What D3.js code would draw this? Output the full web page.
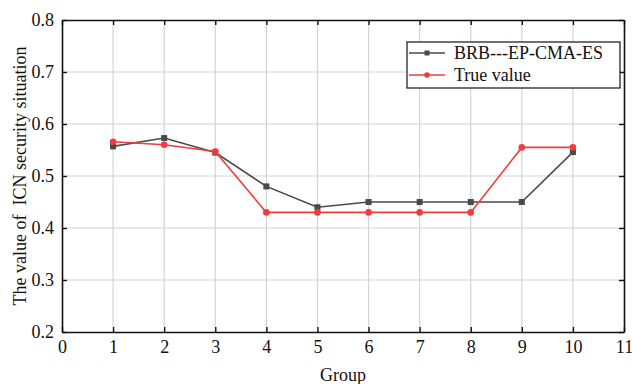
<!DOCTYPE html>
<html>
<head>
<meta charset="utf-8">
<script src="https://cdn.jsdelivr.net/npm/d3@7.9.0/dist/d3.min.js"></script>
<style>
  body { margin: 0; background: #fff; }
</style>
</head>
<body>
<svg width="632" height="384" font-family="'Liberation Serif', 'Times New Roman', serif"></svg>
<script>
const groups = [1, 2, 3, 4, 5, 6, 7, 8, 9, 10];
const brbValues = [0.557, 0.573, 0.545, 0.480, 0.440, 0.450, 0.450, 0.450, 0.450, 0.546];
const trueValues = [0.566, 0.560, 0.547, 0.430, 0.430, 0.430, 0.430, 0.430, 0.555, 0.555];
const xTicks = [0, 1, 2, 3, 4, 5, 6, 7, 8, 9, 10, 11];
const yTicks = [0.2, 0.3, 0.4, 0.5, 0.6, 0.7, 0.8];

const serif = "'Liberation Serif', 'Times New Roman', serif";
const svg = d3.select('svg');
const plotLeft = 62, plotRight = 624, plotTop = 20, plotBottom = 332;

const x = d3.scaleLinear().domain([0, 11]).range([plotLeft, plotRight]);
const y = d3.scaleLinear().domain([0.2, 0.8]).range([plotBottom, plotTop]);

// grid
svg.append('g').selectAll('line').data(groups).join('line')
  .attr('x1', d => x(d)).attr('x2', d => x(d))
  .attr('y1', plotTop).attr('y2', plotBottom)
  .attr('stroke', '#d4d4d4').attr('stroke-width', 1.2);
svg.append('g').selectAll('line').data(yTicks.slice(1, -1)).join('line')
  .attr('x1', plotLeft).attr('x2', plotRight)
  .attr('y1', d => y(d)).attr('y2', d => y(d))
  .attr('stroke', '#d4d4d4').attr('stroke-width', 1.2);

// axes (ticks pointing inward)
const fmt = d3.format('.1f');
const gx = svg.append('g').attr('transform', `translate(0,${plotBottom})`)
  .call(d3.axisBottom(x).tickValues(xTicks).tickSizeInner(-5).tickSizeOuter(0).tickPadding(8));
const gy = svg.append('g').attr('transform', `translate(${plotLeft},0)`)
  .call(d3.axisLeft(y).tickValues(yTicks).tickFormat(fmt).tickSizeInner(-5).tickSizeOuter(0).tickPadding(8));
const gt = svg.append('g').attr('transform', `translate(0,${plotTop})`)
  .call(d3.axisTop(x).tickValues(xTicks).tickSizeInner(-5).tickSizeOuter(0).tickFormat(''));
const gr = svg.append('g').attr('transform', `translate(${plotRight},0)`)
  .call(d3.axisRight(y).tickValues(yTicks).tickSizeInner(-5).tickSizeOuter(0).tickFormat(''));

[gx, gy, gt, gr].forEach(g => {
  g.attr('font-family', serif).attr('font-size', 18);
  g.select('.domain').attr('stroke', '#111').attr('stroke-width', 1.6);
  g.selectAll('.tick line').attr('stroke', '#111').attr('stroke-width', 1.4);
  g.selectAll('.tick text').attr('fill', '#111');
});

// series
const line = d3.line().x((d, i) => x(groups[i])).y(d => y(d));

svg.append('path').datum(brbValues)
  .attr('d', line).attr('fill', 'none')
  .attr('stroke', '#4a4a4a').attr('stroke-width', 1.6);
svg.append('g').selectAll('rect').data(brbValues).join('rect')
  .attr('x', (d, i) => x(groups[i]) - 3).attr('y', d => y(d) - 3)
  .attr('width', 6).attr('height', 6).attr('fill', '#4a4a4a');

svg.append('path').datum(trueValues)
  .attr('d', line).attr('fill', 'none')
  .attr('stroke', '#f03c3c').attr('stroke-width', 1.6);
svg.append('g').selectAll('circle').data(trueValues).join('circle')
  .attr('cx', (d, i) => x(groups[i])).attr('cy', d => y(d))
  .attr('r', 3.3).attr('fill', '#f03c3c');

// legend
const legend = svg.append('g').attr('font-family', serif).attr('font-size', 18);
legend.append('rect').attr('x', 407).attr('y', 42).attr('width', 213).attr('height', 46)
  .attr('fill', '#fff').attr('stroke', '#111').attr('stroke-width', 1.2);
const items = [
  { label: 'BRB---EP-CMA-ES', color: '#4a4a4a', shape: 'square' },
  { label: 'True value', color: '#f03c3c', shape: 'circle' }
];
items.forEach((d, i) => {
  const cy = 53 + i * 22;
  legend.append('line').attr('x1', 409).attr('x2', 445).attr('y1', cy).attr('y2', cy)
    .attr('stroke', d.color).attr('stroke-width', 1.6);
  if (d.shape === 'square') {
    legend.append('rect').attr('x', 424.5).attr('y', cy - 2.5).attr('width', 5).attr('height', 5).attr('fill', d.color);
  } else {
    legend.append('circle').attr('cx', 427).attr('cy', cy).attr('r', 2.8).attr('fill', d.color);
  }
  legend.append('text').attr('x', 454).attr('y', cy + 6)
    .attr('fill', '#111').text(d.label);
});

// titles
svg.append('text').attr('x', 343).attr('y', 381)
  .attr('text-anchor', 'middle').attr('font-family', serif).attr('font-size', 18)
  .attr('fill', '#111').text('Group');
svg.append('text')
  .attr('transform', `translate(26,${(plotTop + plotBottom) / 2}) rotate(-90)`)
  .attr('text-anchor', 'middle').attr('font-family', serif).attr('font-size', 18).attr('fill', '#111')
  .style('white-space', 'pre')
  .text('The value of  ICN security situation');
</script>
</body>
</html>
